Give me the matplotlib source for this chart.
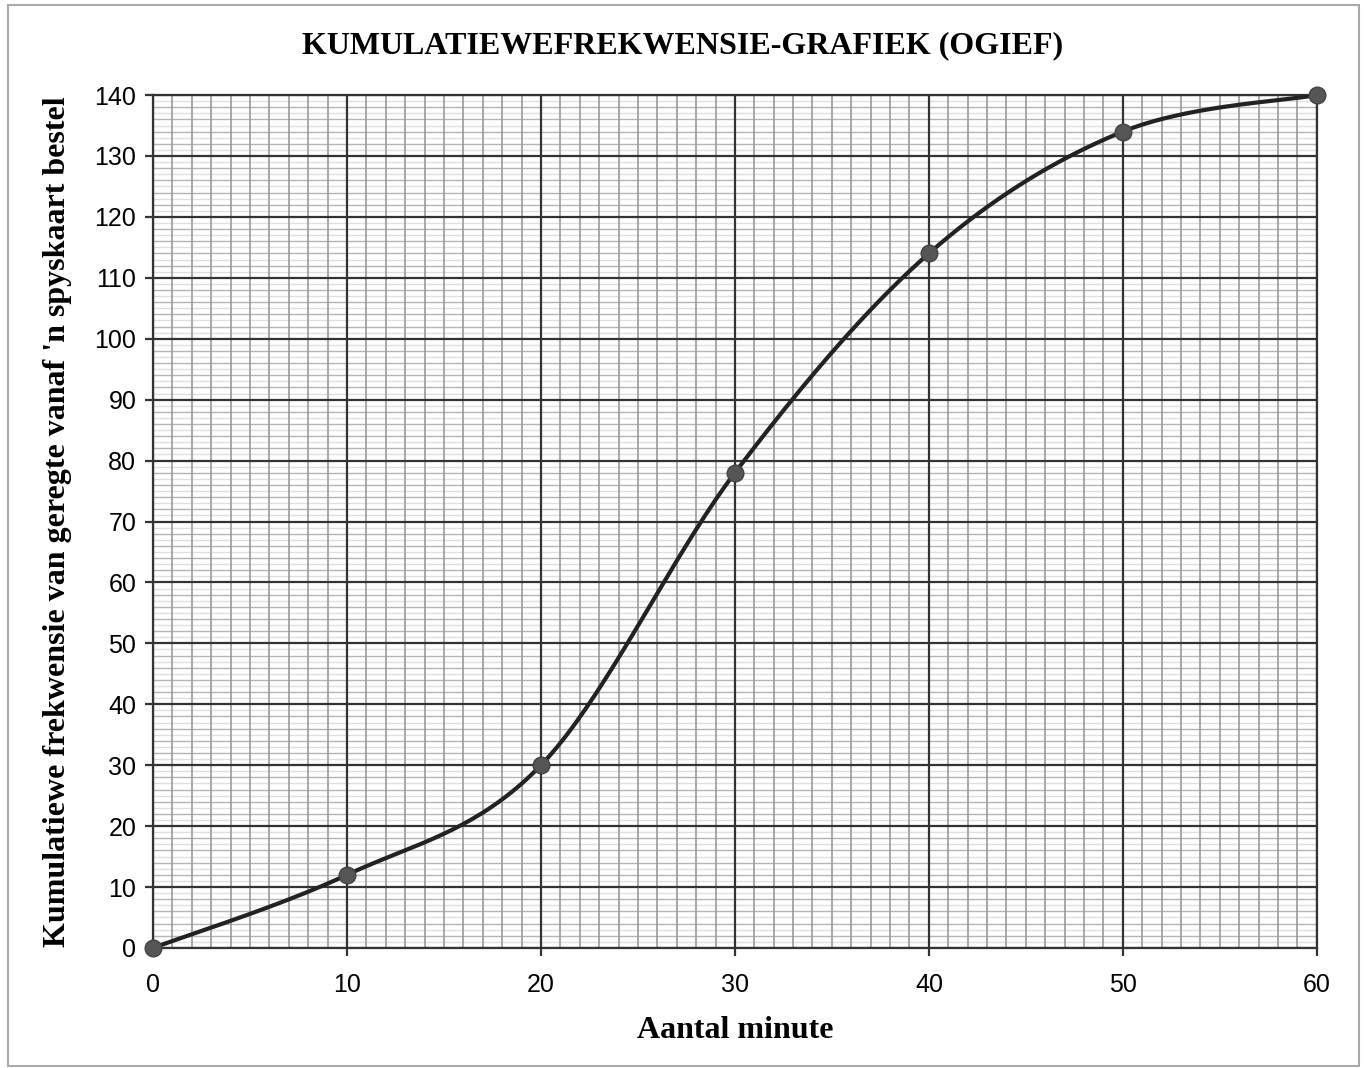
import numpy as np
import matplotlib.pyplot as plt
from matplotlib.patches import Rectangle

# data
minutes = [0, 10, 20, 30, 40, 50, 60]
cum_freq = [0, 12, 30, 78, 114, 134, 140]

title = "KUMULATIEWEFREKWENSIE-GRAFIEK (OGIEF)"
xlabel = "Aantal minute"
ylabel = "Kumulatiewe frekwensie van geregte vanaf 'n spyskaart bestel"


def smooth(x, y, n=40):
    # Catmull-Rom curve through the points (like Excel's smoothed line)
    p = np.column_stack([x, y]).astype(float)
    p = np.vstack([p[0], p, p[-1]])
    out = []
    t = np.linspace(0, 1, n)[:, None]
    for i in range(1, len(p) - 2):
        p0, p1, p2, p3 = p[i - 1], p[i], p[i + 1], p[i + 2]
        seg = 0.5 * ((2 * p1) + (-p0 + p2) * t + (2 * p0 - 5 * p1 + 4 * p2 - p3) * t**2
                     + (-p0 + 3 * p1 - 3 * p2 + p3) * t**3)
        out.append(seg)
    out = np.vstack(out)
    return out[:, 0], out[:, 1]


fig = plt.figure(figsize=(13.66, 10.68), dpi=100)
ax = fig.add_axes([0.112, 0.1124, 0.852, 0.7986])

# fine graph-paper grid
for v in np.arange(0, 141, 1):
    if v % 10 == 0:
        continue
    ax.axhline(v, color="#b5b5b5" if v % 2 == 0 else "#e0e0e0", lw=1.0, zorder=0)
for v in np.arange(0, 61, 1):
    if v % 10 == 0:
        continue
    ax.axvline(v, color="#9a9a9a", lw=1.2, zorder=0)
for v in range(0, 141, 10):
    ax.axhline(v, color="#333333", lw=1.6, zorder=1)
for v in range(0, 61, 10):
    ax.axvline(v, color="#333333", lw=1.6, zorder=1)

sx, sy = smooth(minutes, cum_freq)
ax.plot(sx, sy, color="#222222", lw=3, zorder=3)
ax.plot(minutes, cum_freq, "o", color="#555555", ms=12, mec="#444444", zorder=4, clip_on=False)

ax.set_xlim(0, 60)
ax.set_ylim(0, 140)
ax.set_xticks(range(0, 61, 10))
ax.set_yticks(range(0, 141, 10))
ax.tick_params(length=6, width=1.6, color="#333333", labelsize=18, pad=6)
ax.tick_params(axis="x", pad=12)
for lab in ax.get_xticklabels() + ax.get_yticklabels():
    lab.set_fontfamily("Liberation Sans")
for s in ax.spines.values():
    s.set_color("#333333")
    s.set_linewidth(1.6)

ax.set_xlabel(xlabel, fontfamily="Liberation Serif", fontweight="bold", fontsize=23, labelpad=14)
ax.set_ylabel(ylabel, fontfamily="Liberation Serif", fontweight="bold", fontsize=23, labelpad=16)
fig.text(0.5, 0.957, title, ha="center", va="center", fontfamily="Liberation Serif",
         fontweight="bold", fontsize=23)

# outer frame
fig.patches.append(Rectangle((0.006, 0.002), 0.989, 0.993, transform=fig.transFigure,
                             fill=False, ec="#aaaaaa", lw=1.5))

plt.savefig("out.png")
